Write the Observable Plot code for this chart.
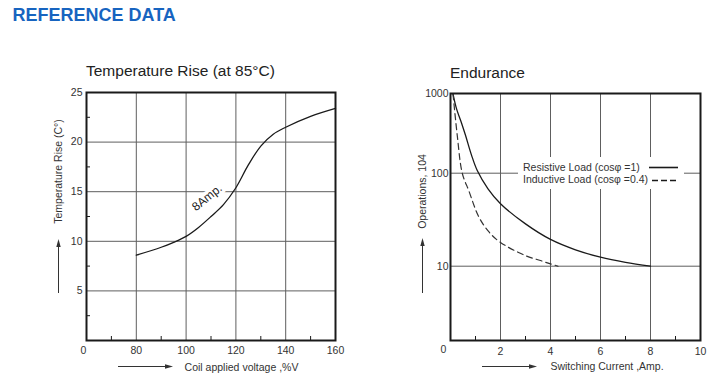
<!DOCTYPE html>
<html><head><meta charset="utf-8">
<script src="https://cdn.jsdelivr.net/npm/d3@7"></script>
<script src="https://cdn.jsdelivr.net/npm/@observablehq/plot@0.6"></script>
<style>
body{margin:0;background:#fff;}
#wrap{position:relative;width:721px;height:387px;overflow:hidden;font-family:"Liberation Sans",Arial,sans-serif;background:#fff;}
#wrap > svg{position:absolute;top:0;}
</style></head><body><div id="wrap"></div>
<script>
// ---- Temperature Rise chart data ----
const tempVoltage = [80, 90, 95, 100, 105, 110, 115, 120, 125, 130, 135, 140, 150, 160];
const tempRise    = [8.6, 9.4, 9.9, 10.5, 11.4, 12.5, 13.7, 15.4, 17.7, 19.6, 20.8, 21.5, 22.6, 23.4];
const tempXTicks = [80, 100, 120, 140, 160];
const tempXMinor = [70, 90, 110, 130, 150];
const tempYTicks = [5, 10, 15, 20, 25];
const tempYMinor = [2.5, 7.5, 12.5, 17.5, 22.5];
const tempGridX = [80, 100, 120, 140];
const tempGridY = [5, 10, 15, 20];
const curveLabel = [{x: 108.4, y: 14.4, text: "8Amp."}];

// ---- Endurance chart data ----
const resCurrent = [0.1, 0.24, 0.45, 0.6, 0.84, 1.07, 1.5, 2, 3, 4, 5, 6, 7, 8];
const resOps     = [1000, 650, 420, 300, 169, 108, 68, 47, 28.5, 19.4, 15, 12.5, 11, 10];
const indCurrent = [0.1, 0.27, 0.47, 0.73, 1.13, 1.53, 2, 3, 3.6, 4, 4.3];
const indOps     = [1000, 300, 100, 65, 34, 23.5, 18, 13, 11.5, 10.6, 10];
const endXTicks = [2, 4, 6, 8, 10];
const endXMinor = [1, 3, 5, 7, 9];
const endYTicks = [10, 100, 1000];
const endGridX = [2, 4, 6, 8];
const endGridY = [10, 100];
const legendItems = ["Resistive Load (cos\u03c6 =1)", "Inductive Load (cos\u03c6 =0.4)"];

const font = '"Liberation Sans", Arial, sans-serif';
const ink = "#1a1a1a";
const gridStroke = "#5e5e5e";
const wrap = document.getElementById("wrap");

const left = Plot.plot({
  width: 360, height: 387,
  marginLeft: 86, marginRight: 25, marginTop: 92, marginBottom: 47,
  style: {fontFamily: font, fontSize: "10.5px", color: "#333", background: "transparent", overflow: "visible"},
  x: {domain: [60, 160]},
  y: {domain: [0, 25]},
  marks: [
    Plot.gridX(tempGridX, {stroke: gridStroke, strokeOpacity: 1, strokeWidth: 1}),
    Plot.gridY(tempGridY, {stroke: gridStroke, strokeOpacity: 1, strokeWidth: 1}),
    Plot.axisX(tempXTicks, {tickSize: 0, tickPadding: 6, label: null}),
    Plot.axisX([60], {tickSize: 0, tickPadding: 6, tickFormat: () => "0", dx: -3, label: null}),
    Plot.axisX(tempXMinor, {tickSize: -4, tickFormat: () => "", label: null, stroke: ink}),
    Plot.axisY(tempYTicks, {tickSize: 0, tickPadding: 4, label: null}),
    Plot.axisY(tempYMinor, {tickSize: -4, tickFormat: () => "", label: null, stroke: ink}),
    Plot.line(tempVoltage.map((x, i) => ({x, y: tempRise[i]})), {x: "x", y: "y", curve: "catmull-rom", stroke: ink, strokeWidth: 1.3}),
    Plot.text(curveLabel, {x: "x", y: "y", text: "text", rotate: -39, fontSize: 12, fill: "#222", stroke: "white", strokeWidth: 7, paintOrder: "stroke"}),
    Plot.frame({stroke: ink, strokeWidth: 2}),
    Plot.text(["Temperature Rise (C\u00b0)"], {frameAnchor: "left", textAnchor: "middle", lineAnchor: "middle", rotate: -90, dx: -28, dy: -45, fill: "#333"}),
    Plot.text(["Coil applied voltage ,%V"], {frameAnchor: "bottom", dx: 30.5, dy: 30, fill: "#333"})
  ]
});
left.style.left = "0px";
wrap.appendChild(left);

const right = Plot.plot({
  width: 361, height: 387,
  marginLeft: 90, marginRight: 21, marginTop: 93, marginBottom: 47,
  style: {fontFamily: font, fontSize: "10.5px", color: "#333", background: "transparent", overflow: "visible"},
  x: {domain: [0, 10]},
  y: {type: "log", domain: [1.56, 10, 100, 1000], range: [340, 265.7, 172.7, 93.3]},
  marks: [
    Plot.gridX(endGridX, {stroke: gridStroke, strokeOpacity: 1, strokeWidth: 1}),
    Plot.gridY(endGridY, {stroke: gridStroke, strokeOpacity: 1, strokeWidth: 1}),
    Plot.axisX(endXTicks, {tickSize: 0, tickPadding: 7, label: null}),
    Plot.axisX([0], {tickSize: 0, tickPadding: 5, tickFormat: () => "0", dx: -7, label: null}),
    Plot.axisX(endXMinor, {tickSize: -4, tickFormat: () => "", label: null, stroke: ink}),
    Plot.axisY(endYTicks, {tickSize: 0, tickPadding: 2, tickFormat: d => String(d), label: null}),
    Plot.line(resCurrent.map((x, i) => ({x, y: resOps[i]})), {x: "x", y: "y", curve: "catmull-rom", stroke: ink, strokeWidth: 1.3}),
    Plot.line(indCurrent.map((x, i) => ({x, y: indOps[i]})), {x: "x", y: "y", curve: "catmull-rom", stroke: "#333", strokeWidth: 1.2, strokeDasharray: "6,4"}),
    Plot.frame({stroke: ink, strokeWidth: 2}),
    Plot.text(["Operations, 104"], {frameAnchor: "left", textAnchor: "middle", lineAnchor: "middle", rotate: -90, dx: -28, dy: -25.5, fill: "#333"}),
    Plot.text(["Switching Current ,Amp."], {frameAnchor: "bottom", dx: 31.5, dy: 29, fill: "#333"})
  ]
});
right.style.left = "360px";
wrap.appendChild(right);

// ---- overlay: heading, titles, arrows, legend ----
const ov = d3.select(wrap).append("svg")
  .attr("width", 721).attr("height", 387)
  .style("left", "0px").style("font-family", font);

ov.append("text").attr("x", 12.5).attr("y", 20.5)
  .attr("font-size", 18).attr("font-weight", "bold").attr("fill", "#1764c0")
  .text("REFERENCE DATA");
ov.append("text").attr("x", 86).attr("y", 75.5).attr("font-size", 15.5).attr("fill", "#222")
  .text("Temperature Rise (at 85\u00b0C)");
ov.append("text").attr("x", 450).attr("y", 78).attr("font-size", 15.5).attr("fill", "#222")
  .text("Endurance");

function arrow(x1, y1, x2, y2) {
  const ang = Math.atan2(y2 - y1, x2 - x1);
  const L = 8, W = 2.2;
  const bx = x2 - L * Math.cos(ang), by = y2 - L * Math.sin(ang);
  const nx = -Math.sin(ang) * W, ny = Math.cos(ang) * W;
  ov.append("line").attr("x1", x1).attr("y1", y1).attr("x2", bx).attr("y2", by)
    .attr("stroke", "#333").attr("stroke-width", 1);
  ov.append("path").attr("d", `M${x2},${y2}L${bx + nx},${by + ny}L${bx - nx},${by - ny}Z`).attr("fill", "#333");
}
arrow(58.5, 293, 58.5, 239);
arrow(118, 366.5, 173, 366.5);
arrow(422.5, 293, 422.5, 238);
arrow(482, 366.5, 537, 366.5);

// legend
ov.append("rect").attr("x", 518).attr("y", 157).attr("width", 166).attr("height", 32).attr("fill", "white");
const rows = [167.3, 179];
legendItems.forEach((t, i) => {
  ov.append("text").attr("x", 523).attr("y", rows[i]).attr("dy", "0.35em")
    .attr("font-size", 10.5).attr("fill", "#333").text(t);
});
ov.append("line").attr("x1", 649).attr("x2", 678).attr("y1", 167.5).attr("y2", 167.5)
  .attr("stroke", ink).attr("stroke-width", 1.6);
ov.append("line").attr("x1", 652).attr("x2", 678).attr("y1", 180.5).attr("y2", 180.5)
  .attr("stroke", ink).attr("stroke-width", 1.6).attr("stroke-dasharray", "6,3");
</script></body></html>
